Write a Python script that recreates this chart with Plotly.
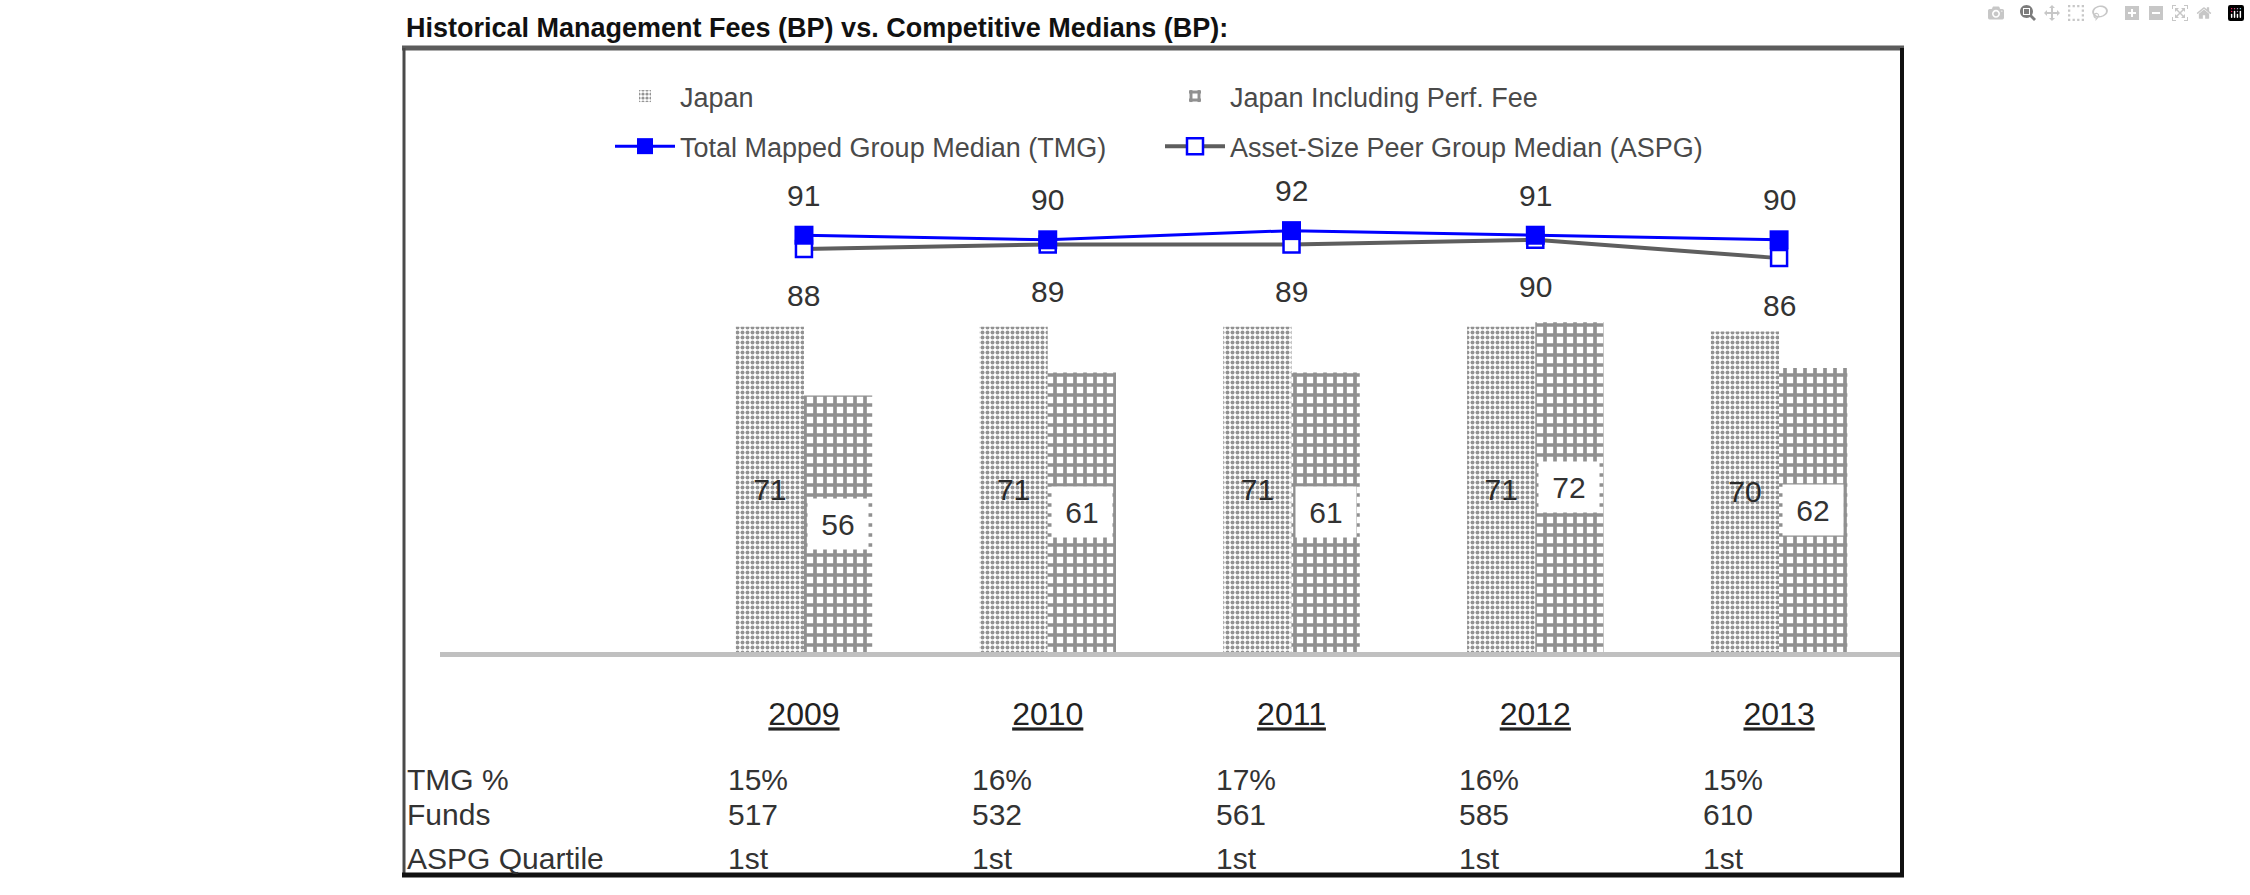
import plotly.graph_objects as go

# ---------------- data ----------------
years = ["2009", "2010", "2011", "2012", "2013"]
japan = [71, 71, 71, 71, 70]
japan_perf = [56, 61, 61, 72, 62]
tmg = [91, 90, 92, 91, 90]
aspg = [88, 89, 89, 90, 86]
row_labels = ["TMG %", "Funds", "ASPG Quartile"]
tmg_pct = ["15%", "16%", "17%", "16%", "15%"]
funds = ["517", "532", "561", "585", "610"]
aspg_quartile = ["1st", "1st", "1st", "1st", "1st"]
title_text = "Historical Management Fees (BP) vs. Competitive Medians (BP):"

# ---------------- helpers ----------------
W, H = 2250, 895
FONT = "Liberation Sans, Arial, sans-serif"


def px_x(p):
    return p / W


def px_y(p):
    return 1 - p / H


fig = go.Figure()

fig.add_trace(go.Bar(
    name="Japan", x=years, y=japan,
    text=[str(v) for v in japan], textposition="inside",
    insidetextanchor="middle", textangle=0, constraintext="none",
    textfont=dict(family=FONT, size=30, color="#2a2a2a"),
    marker=dict(color="white", line=dict(width=0),
                pattern=dict(shape=".", fgcolor="#262626", bgcolor="white",
                             size=5, solidity=0.5)),
    legend="legend", legendgroup="a", legendrank=1, hoverinfo="skip",
))
fig.add_trace(go.Bar(
    name="Japan Including Perf. Fee", x=years, y=japan_perf,
    marker=dict(color="white", line=dict(width=0),
                pattern=dict(shape="+", fgcolor="#222222", bgcolor="white",
                             size=10, solidity=0.6)),
    legend="legend2", legendgroup="b", legendrank=1, hoverinfo="skip",
))
fig.add_trace(go.Scatter(
    name="Asset-Size Peer Group Median (ASPG)", x=years, y=aspg,
    mode="lines+markers",
    line=dict(color="#5e5e5e", width=4),
    marker=dict(symbol="square", size=16, color="white",
                line=dict(color="#0000ff", width=2.5)),
    legend="legend2", legendgroup="c", legendrank=2, hoverinfo="skip",
))
fig.add_trace(go.Scatter(
    name="Total Mapped Group Median (TMG)", x=years, y=tmg,
    mode="lines+markers",
    line=dict(color="#0000ff", width=3),
    marker=dict(symbol="square", size=19, color="#0000ff"),
    legend="legend", legendgroup="d", legendrank=2, hoverinfo="skip",
))

annotations = []
lab_font = dict(family=FONT, size=30, color="#333333")
# category positions on the x axis are the category indices
for i, v in enumerate(tmg):
    annotations.append(dict(x=i, y=v, xref="x", yref="y", text=str(v),
                            showarrow=False, yshift=40, font=lab_font))
for i, v in enumerate(aspg):
    annotations.append(dict(x=i, y=v, xref="x", yref="y", text=str(v),
                            showarrow=False, yshift=-47, font=lab_font))
for i, v in enumerate(japan_perf):
    annotations.append(dict(x=i, y=v / 2, xref="x", yref="y", text=str(v),
                            showarrow=False, xshift=34, bgcolor="white",
                            width=58, height=48, font=lab_font))

# table
row_y = [779, 814, 858]
tab_font = dict(family=FONT, size=30, color="#333333")
for lab, yy in zip(row_labels, row_y):
    annotations.append(dict(x=px_x(405), y=px_y(yy), xref="paper", yref="paper",
                            text=lab, showarrow=False, xanchor="left",
                            yanchor="middle", font=tab_font))
for row, yy in zip([tmg_pct, funds, aspg_quartile], row_y):
    for i, t in enumerate(row):
        annotations.append(dict(x=i, y=px_y(yy), xref="x", yref="paper",
                                text=t, showarrow=False, xanchor="left",
                                yanchor="middle", xshift=-78, font=tab_font))

shapes = [
    dict(type="line", xref="paper", yref="paper", x0=px_x(402), x1=px_x(1904),
         y0=px_y(48), y1=px_y(48), line=dict(color="#5c5c5c", width=5)),
    dict(type="line", xref="paper", yref="paper", x0=px_x(404), x1=px_x(404),
         y0=px_y(48), y1=px_y(877), line=dict(color="#4a4a4a", width=3)),
    dict(type="line", xref="paper", yref="paper", x0=px_x(1902), x1=px_x(1902),
         y0=px_y(48), y1=px_y(877), line=dict(color="#111111", width=4)),
    dict(type="line", xref="paper", yref="paper", x0=px_x(402), x1=px_x(1904),
         y0=px_y(875), y1=px_y(875), line=dict(color="#111111", width=5)),
]

legend_common = dict(
    xanchor="left", yanchor="top", orientation="v", traceorder="grouped",
    tracegroupgap=12, itemwidth=60, bgcolor="rgba(0,0,0,0)",
    font=dict(family=FONT, size=27, color="#4a4a4a"), itemclick=False,
)

fig.update_layout(
    width=W, height=H, margin=dict(l=0, r=0, t=0, b=0),
    paper_bgcolor="white", plot_bgcolor="rgba(0,0,0,0)",
    barmode="group", bargap=0.44, bargroupgap=0,
    title=dict(text="<b>" + title_text + "</b>", x=px_x(406), xanchor="left",
               y=px_y(28), yanchor="middle",
               font=dict(family=FONT, size=27, color="#111111")),
    xaxis=dict(type="category", domain=[px_x(440), px_x(1900)],
               range=[-1.493, 4.496], showline=True, linecolor="#c0c0c0",
               linewidth=5, ticks="", tickvals=years,
               ticktext=["<u>" + y + "</u>" for y in years],
               tickfont=dict(family=FONT, size=32, color="#222222"),
               ticklabelstandoff=30, showgrid=False, zeroline=False),
    yaxis=dict(domain=[1 - 652 / H, 1 - 50 / H], range=[0, 602 / 4.58],
               visible=False, showgrid=False, zeroline=False),
    legend=dict(x=px_x(610), y=px_y(72), **legend_common),
    legend2=dict(x=px_x(1160), y=px_y(72), **legend_common),
    annotations=annotations, shapes=shapes, showlegend=True,
    font=dict(family=FONT),
)

fig.write_html("out.html",
               post_script="document.body.style.margin='0';document.body.style.overflow='hidden';")
